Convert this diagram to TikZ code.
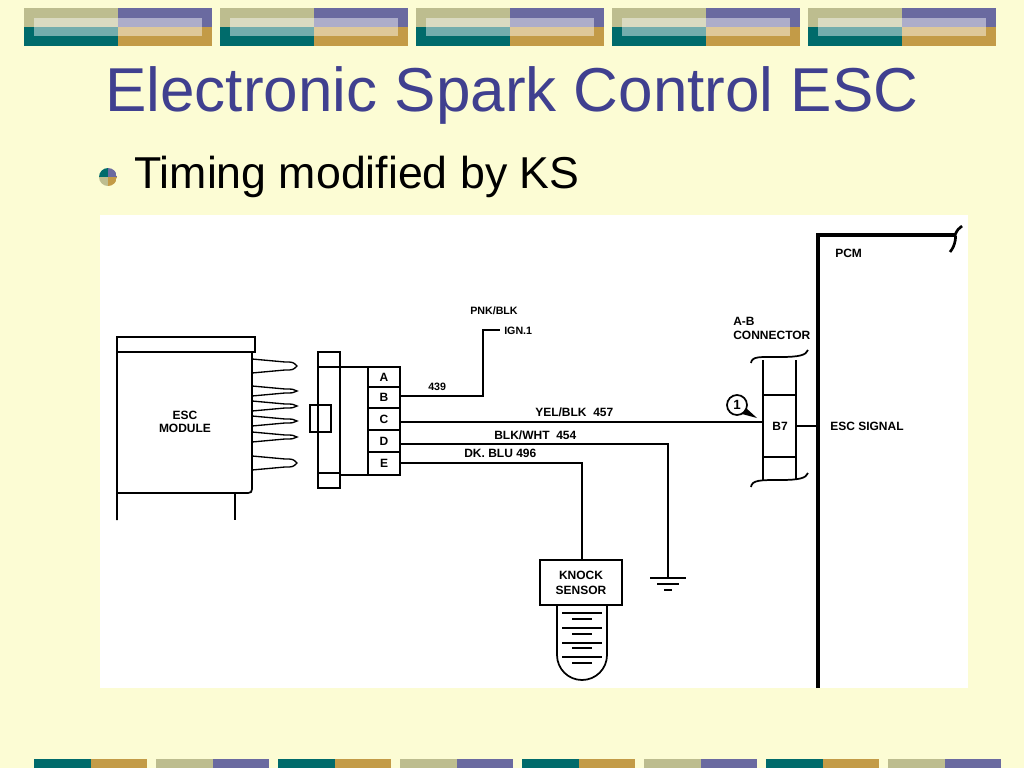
\documentclass[tikz,border=0pt]{standalone}
\usepackage{fontspec}
\setmainfont{Liberation Sans}
\definecolor{bg}{HTML}{FCFCD4}
\definecolor{khaki}{HTML}{BDBD8F}
\definecolor{purp}{HTML}{6A6AA0}
\definecolor{teal}{HTML}{006B6B}
\definecolor{gold}{HTML}{C39B47}
\definecolor{titlec}{HTML}{40408F}
\begin{document}
\begin{tikzpicture}[x=0.75pt,y=-0.75pt,
  lbl/.style={font=\bfseries\fontsize{8}{9}\selectfont,inner sep=0pt},
  wire/.style={line width=1.3pt},
  box/.style={draw,line width=1.3pt}]
\fill[bg] (0,0) rectangle (1024,768);
\useasboundingbox (0,0) rectangle (1024,768);
% top banner
\foreach \x in {24,220,416,612,808}{
  \fill[khaki] (\x,8) rectangle +(94,19);
  \fill[purp] (\x+94,8) rectangle +(94,19);
  \fill[teal] (\x,27) rectangle +(94,19);
  \fill[gold] (\x+94,27) rectangle +(94,19);
  \fill[white,opacity=0.45] (\x+10,18) rectangle +(168,18);
}
% bottom banner
\foreach \x/\a/\b in {34/teal/gold,156/khaki/purp,278/teal/gold,400/khaki/purp,522/teal/gold,644/khaki/purp,766/teal/gold,888/khaki/purp}{
  \fill[\a] (\x,759) rectangle +(57,9);
  \fill[\b] (\x+57,759) rectangle +(56,9);
}
% title
\node[text=titlec,font=\fontsize{46.5}{54}\selectfont,inner sep=0pt] (title) at (512,95) {Electronic Spark Control ESC};
% bullet
\begin{scope}
\clip (108,177) circle (9);
\fill[teal] (99,168) rectangle (108,177);
\fill[purp] (108,168) rectangle (117,177);
\fill[khaki] (99,177) rectangle (108,186);
\fill[gold] (108,177) rectangle (117,186);
\end{scope}
\node[anchor=west,font=\fontsize{33.5}{40}\selectfont,inner sep=0pt] (bul) at (134,177) {Timing modified by KS};
% image
\fill[white] (100,215) rectangle (968,688);
% ESC module
\draw[box] (117,337) rectangle (255,352);
\draw[box] (117,520) -- (117,352) -- (252,352) -- (252,485) .. controls (252,493) .. (244,493) -- (117,493);
\draw[box] (235,493) -- (235,520);
\node[lbl,align=center,font=\bfseries\fontsize{9}{10}\selectfont] (esc) at (185,422) {ESC\\MODULE};
\foreach \y/\h in {366/7,391/5,406/5,421/5,437/5,463/7}{
  \draw[line width=1pt] (252,\y-\h) -- (285,\y-\h+3) .. controls (293,\y-\h+3) .. (297,\y) .. controls (293,\y+\h-3) .. (285,\y+\h-3) -- (252,\y+\h);
}
% connector
\draw[box] (318,352) rectangle (340,488);
\draw[box] (318,367) -- (340,367) (318,473) -- (340,473);
\draw[box] (310,405) rectangle (331,432);
\draw[box] (340,367) rectangle (400,475);
\draw[box] (368,367) -- (368,475);
\foreach \t/\a/\b in {A/367/387,B/387/408,C/408/430,D/430/452,E/452/475}{
  \draw[box] (368,\b) -- (400,\b);
  \node[lbl,font=\bfseries\fontsize{9}{10}\selectfont] (pin\t) at (384,{(\a+\b)/2}) {\t};
}
% wires
\coordinate (ign) at (500,330);
\draw[wire] (400,396) -- (483,396) -- (483,330) -- (ign);
\node[lbl,anchor=west] (ignl) at (504,331) {IGN.1};
\node[lbl,anchor=west] (pnk) at (470,311) {PNK/BLK};
\node[lbl,anchor=west] (n439) at (428,387) {439};
% A-B connector
\draw[box] (763,395) rectangle (796,457);
\draw[box] (763,360) -- (763,480) (796,360) -- (796,480);
\draw[line width=1.3pt] (751,363) .. controls (752,356) and (760,357) .. (780,357) .. controls (800,357) and (806,355) .. (808,350);
\draw[line width=1.3pt] (751,487) .. controls (752,480) and (760,480) .. (780,480) .. controls (800,480) and (806,478) .. (808,473);
\node[lbl,font=\bfseries\fontsize{9}{10}\selectfont] (b7) at (780,426) {B7};
\node[lbl,anchor=west,align=left,font=\bfseries\fontsize{9}{10.5}\selectfont] (abc) at (733,328) {A-B\\CONNECTOR};
\draw[wire] (400,422) -- (763,422);
\node[lbl,anchor=west,font=\bfseries\fontsize{9}{10}\selectfont] (yel) at (535,412) {YEL/BLK\ \ 457};
\draw[wire] (400,444) -- (668,444) -- (668,578);
\node[lbl,anchor=west,font=\bfseries\fontsize{9}{10}\selectfont] (blk) at (494,435) {BLK/WHT\ \ 454};
\draw[line width=1.3pt] (650,578) -- (686,578) (657,584) -- (679,584) (664,590) -- (672,590);
\draw[wire] (400,463) -- (582,463) -- (582,560);
\node[lbl,anchor=west,font=\bfseries\fontsize{9}{10}\selectfont] (dk) at (464,453) {DK. BLU 496};
% knock sensor
\draw[box] (540,560) rectangle (622,605);
\node[lbl,align=center,font=\bfseries\fontsize{9}{11}\selectfont] (ks) at (581,583) {KNOCK\\SENSOR};
\draw[box] (557,605) -- (557,655) arc (180:0:25) -- (607,605);
\foreach \y/\w in {613/20,619/10,628/20,634/10,643/20,648/10,657/20,663/10}{
  \draw[line width=1.2pt] (582-\w,\y) -- (582+\w,\y);
}
% PCM
\draw[line width=2.5pt] (818,688) -- (818,235) -- (955,235);
\draw[line width=2pt] (950,252) .. controls (956,245) and (956,235) .. (955,235) .. controls (957,230) and (959,228) .. (962,226);
\node[lbl,anchor=west,font=\bfseries\fontsize{9}{10}\selectfont] (pcm) at (835,253) {PCM};
\draw[wire] (796,426) -- (818,426);
\node[lbl,anchor=west,font=\bfseries\fontsize{9}{10}\selectfont] (escs) at (830,426) {ESC SIGNAL};
% circle 1
\draw[line width=1.3pt] (737,405) circle (10);
\node[lbl,font=\bfseries\fontsize{10}{10}\selectfont] (one) at (737,405) {1};
\fill (742,414) -- (757,418) -- (746,408) -- cycle;
\end{tikzpicture}
\end{document}
